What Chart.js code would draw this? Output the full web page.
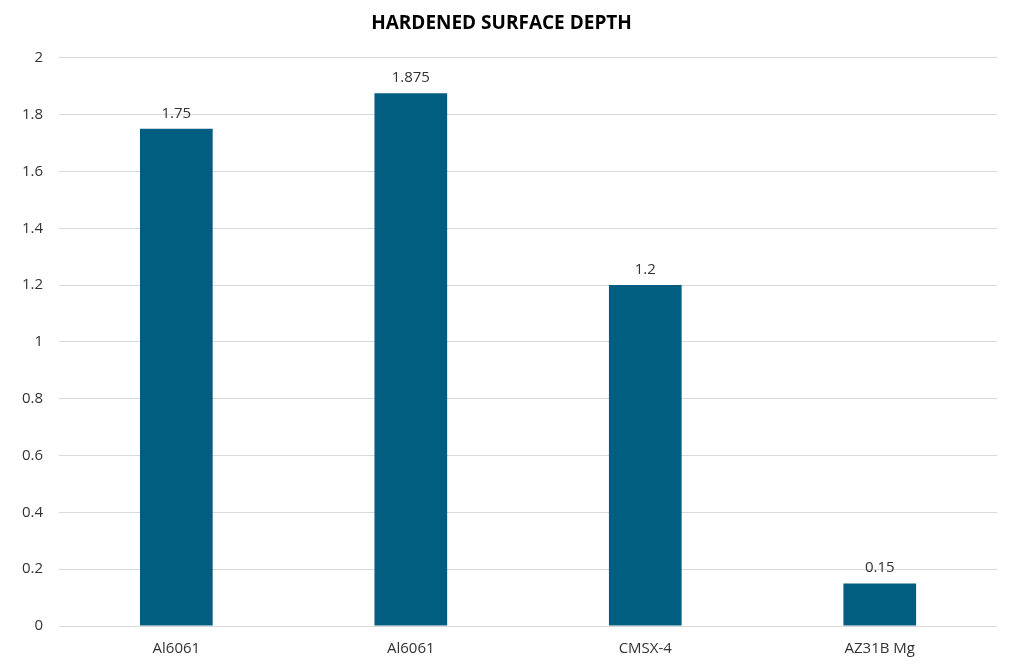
<!DOCTYPE html>
<html>
<head>
<meta charset="utf-8">
<script src="https://cdn.jsdelivr.net/npm/chart.js@4"></script>
<style>
html,body{margin:0;padding:0;background:#fff;}
#wrap{width:1014px;height:669px;position:relative;}
</style>
</head>
<body>
<div id="wrap"><canvas id="c"></canvas></div>
<script>
const categories = ["Al6061", "Al6061", "CMSX-4", "AZ31B Mg"];
const depthValues = [1.75, 1.875, 1.2, 0.15];
const valueLabels = ["1.75", "1.875", "1.2", "0.15"];
const yTicks = [0, 0.2, 0.4, 0.6, 0.8, 1, 1.2, 1.4, 1.6, 1.8, 2];

const labelPlugin = {
  id: 'valueLabels',
  afterDatasetsDraw(chart) {
    const ctx = chart.ctx;
    const meta = chart.getDatasetMeta(0);
    ctx.save();
    ctx.font = '15px "Open Sans", Arial, sans-serif';
    ctx.fillStyle = '#333333';
    ctx.textAlign = 'center';
    ctx.textBaseline = 'bottom';
    meta.data.forEach((bar, i) => {
      ctx.fillText(valueLabels[i], bar.x, bar.y - 8);
    });
    ctx.restore();
  }
};

new Chart(document.getElementById('c'), {
  type: 'bar',
  data: {
    labels: categories,
    datasets: [{
      data: depthValues,
      backgroundColor: '#015e80',
      borderWidth: 0,
      categoryPercentage: 1.0,
      barPercentage: 0.31
    }]
  },
  options: {
    responsive: true,
    maintainAspectRatio: false,
    animation: false,
    layout: { padding: { left: 6, right: 17, top: 4, bottom: 5 } },
    plugins: {
      legend: { display: false },
      tooltip: { enabled: false },
      title: {
        display: true,
        text: 'HARDENED SURFACE DEPTH',
        color: '#000',
        font: { family: '"Open Sans", Arial, sans-serif', size: 19, weight: 'bold' },
        padding: { top: 8, bottom: 23 }
      }
    },
    scales: {
      x: {
        grid: { display: false },
        border: { display: false },
        ticks: { color: '#333333', font: { family: '"Open Sans", Arial, sans-serif', size: 15 }, padding: 6 }
      },
      y: {
        min: 0, max: 2,
        afterBuildTicks(axis) { axis.ticks = yTicks.map(v => ({ value: v })); },
        grid: { color: '#d9d9d9', lineWidth: 1, drawTicks: false },
        border: { display: false },
        ticks: {
          color: '#333333',
          font: { family: '"Open Sans", Arial, sans-serif', size: 15 },
          padding: 16,
          callback: v => String(v)
        }
      }
    }
  },
  plugins: [labelPlugin]
});
</script>
</body>
</html>
